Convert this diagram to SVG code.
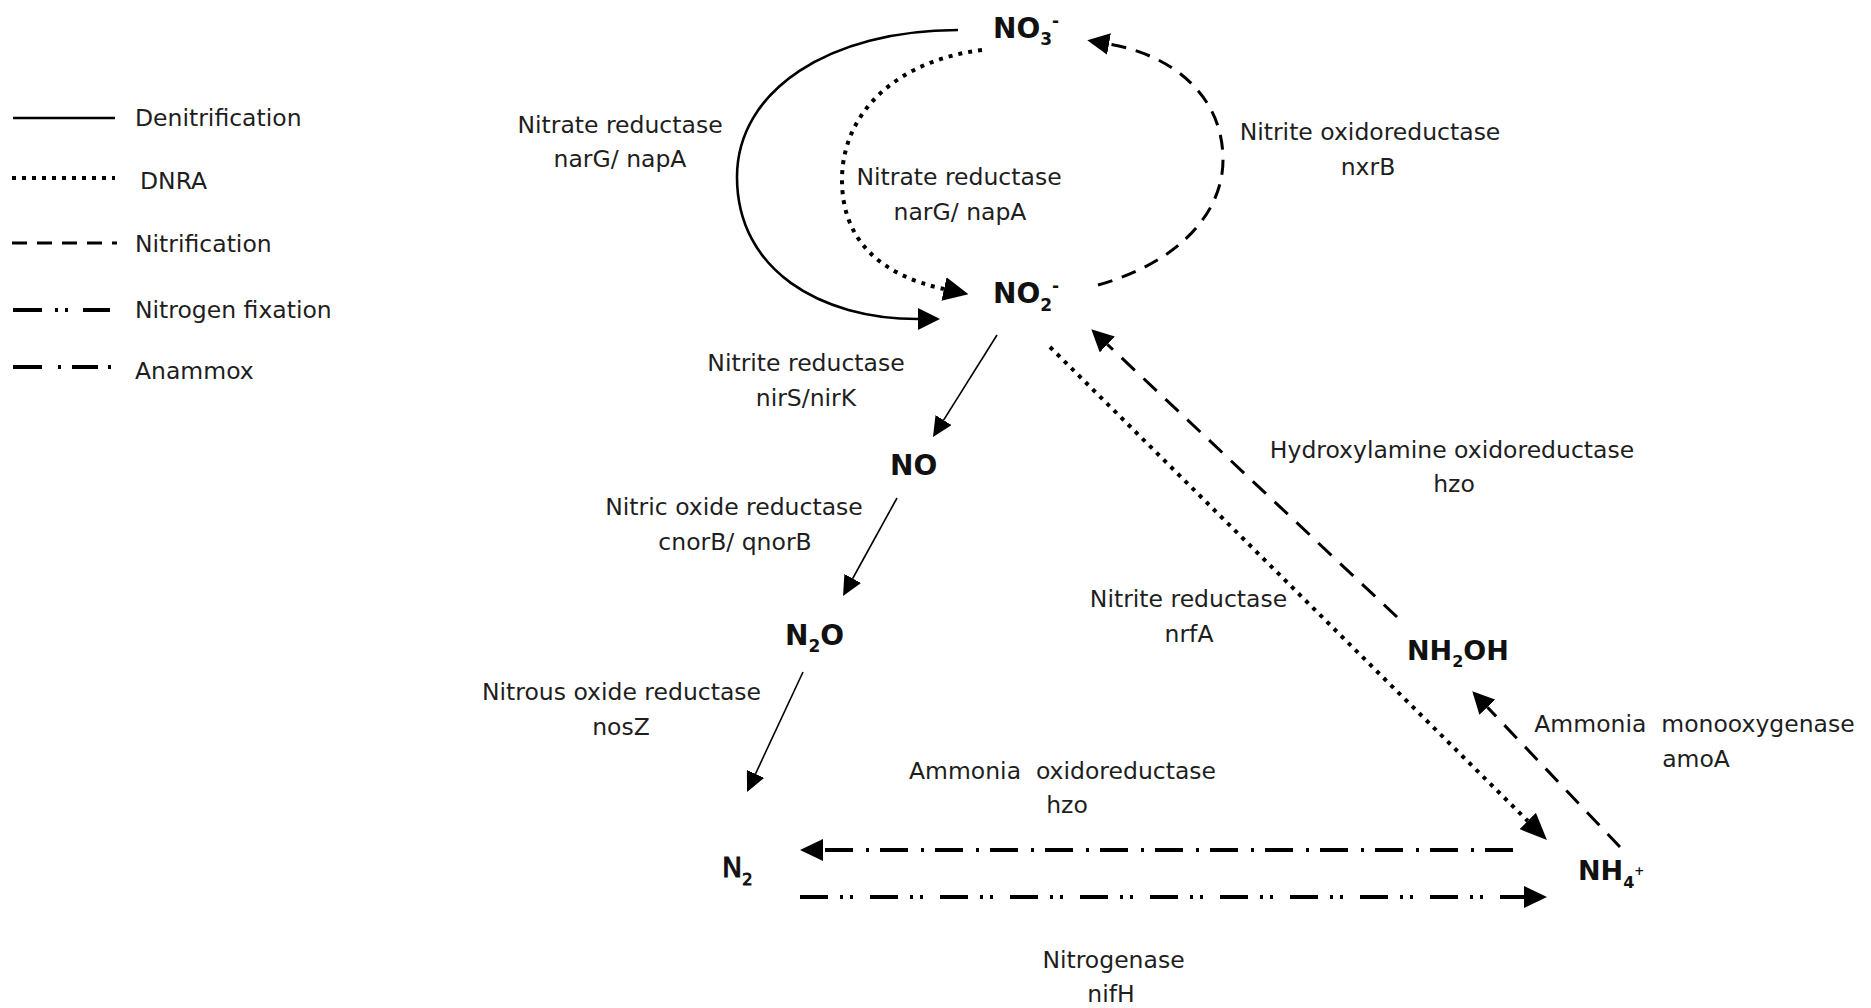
<svg xmlns="http://www.w3.org/2000/svg" width="1871" height="1008" viewBox="0 0 1871 1008">
  <defs>
    <!-- arrowheads: base sits on the path end, tip points forward -->
    <marker id="head" markerUnits="userSpaceOnUse" viewBox="0 0 22 22" markerWidth="22" markerHeight="22" refX="0" refY="11" orient="auto">
      <path d="M0,0 L22,11 L0,22 Z" fill="#000"/>
    </marker>
    <marker id="headL" markerUnits="userSpaceOnUse" viewBox="0 0 25 24" markerWidth="25" markerHeight="24" refX="0" refY="12" orient="auto">
      <path d="M0,0 L25,12 L0,24 Z" fill="#000"/>
    </marker>
    <marker id="headD" markerUnits="userSpaceOnUse" viewBox="0 0 27 23" markerWidth="27" markerHeight="23" refX="0" refY="11.5" orient="auto">
      <path d="M0,0 L27,11.5 L0,23 Z" fill="#000"/>
    </marker>
    <marker id="headS" markerUnits="userSpaceOnUse" viewBox="0 0 20 19" markerWidth="20" markerHeight="19" refX="0" refY="9.5" orient="auto">
      <path d="M0,0 L20,9.5 L0,19 Z" fill="#000"/>
    </marker>
    <marker id="headH" markerUnits="userSpaceOnUse" viewBox="0 0 23 22" markerWidth="23" markerHeight="22" refX="0" refY="11" orient="auto">
      <path d="M0,0 L23,11 L0,22 Z" fill="#000"/>
    </marker>
  </defs>
  <style>
    .lbl { font-family: "DejaVu Sans", "Liberation Sans", sans-serif; font-size: 23.5px; fill: #1e1e1e; text-anchor: middle; white-space: pre; }
    .leg { font-family: "DejaVu Sans", "Liberation Sans", sans-serif; font-size: 23.5px; fill: #1e1e1e; }
    .chem { font-family: "DejaVu Sans", "Liberation Sans", sans-serif; font-weight: bold; font-size: 28px; fill: #111; }
    .chem.small { font-size: 27px; }
    .chem.plain { font-weight: normal; font-size: 27px; stroke: #111; stroke-width: 1px; }
    .chem .sub { font-size: 17px; }
    .chem .sup { font-size: 17px; }
    .chem.small .sub, .chem.plain .sub { font-size: 16px; }
    .chem .plus { font-size: 12px; }
    .line { fill: none; stroke: #000; }
    .solid { stroke-width: 2.6; }
    .thin { stroke-width: 1.6; }
    .dotted { stroke-width: 4; stroke-dasharray: 4 6; }
    .dashed { stroke-width: 3; stroke-dasharray: 15 10; }
    .dashed-long { stroke-width: 3; stroke-dasharray: 18 12; }
    .anammox { stroke-width: 4; stroke-dasharray: 28 11 3 13; }
    .fixation { stroke-width: 4; stroke-dasharray: 28 12 3 7 3 17; }
  </style>

  <rect width="1871" height="1008" fill="#fff"/>

  <!-- legend -->
  <g id="legend">
    <path class="line solid" d="M13,118 H115"/>
    <text class="leg" x="135" y="126">Denitrification</text>
    <path class="line dotted" d="M12,178 H115"/>
    <text class="leg" x="140" y="189">DNRA</text>
    <path class="line dashed" d="M12,243 H117"/>
    <text class="leg" x="135" y="252">Nitrification</text>
    <path class="line" stroke-width="4" stroke-dasharray="29 13 3 7 3 15" d="M13,310 H110"/>
    <text class="leg" x="135" y="318">Nitrogen fixation</text>
    <path class="line" stroke-width="4" stroke-dasharray="29 16 3 11 26 10 3 100" d="M13,367 H113"/>
    <text class="leg" x="135" y="379">Anammox</text>
  </g>

  <!-- connectors -->
  <g id="connectors">
    <!-- denitrification: NO3- to NO2- -->
    <path class="line solid" d="M958,30 C830,30 737,90 737,177 C737,270 820,319 918,319" marker-end="url(#head)"/>
    <!-- DNRA: NO3- to NO2- -->
    <path class="line dotted" d="M982,50 C900,60 842,110 842,180 C842,240 880,275 944,289" marker-end="url(#headL)"/>
    <!-- nitrification: NO2- to NO3- -->
    <path class="line dashed" d="M1098,285 C1180,262 1223,212 1223,160 C1223,95 1172,55 1109,44" marker-end="url(#head)"/>
    <!-- denitrification chain -->
    <path class="line thin" d="M997,335 L943.6,420.1" marker-end="url(#headS)"/>
    <path class="line thin" d="M897,498 L852.7,578.5" marker-end="url(#headS)"/>
    <path class="line thin" d="M803,672 L755.5,773.9" marker-end="url(#headS)"/>
    <!-- DNRA: NO2- to NH4+ -->
    <path class="line dotted" d="M1050,347 L1527.8,821" marker-end="url(#headD)"/>
    <!-- nitrification: NH2OH to NO2- -->
    <path class="line dashed-long" d="M1397,617 L1107.3,344.4" marker-end="url(#head)"/>
    <!-- nitrification: NH4+ to NH2OH -->
    <path class="line dashed-long" d="M1620,847 L1487.4,707.2" marker-end="url(#head)"/>
    <!-- anammox: NH4+ to N2 -->
    <path class="line anammox" d="M1513,850 L823,850" marker-end="url(#headH)"/>
    <!-- nitrogen fixation: N2 to NH4+ -->
    <path class="line fixation" d="M800,897 L1524,897" marker-end="url(#headH)"/>
  </g>

  <!-- species -->
  <g id="node-no3">
    <text class="chem" x="993" y="38">NO<tspan class="sub" dy="7">3</tspan><tspan class="sup" dy="-18.5">-</tspan></text>
  </g>
  <g id="node-no2">
    <text class="chem" x="993" y="303">NO<tspan class="sub" dy="8">2</tspan><tspan class="sup" dy="-19">-</tspan></text>
  </g>
  <g id="node-no">
    <text class="chem" x="890" y="475">NO</text>
  </g>
  <g id="node-n2o">
    <text class="chem" x="785" y="645">N<tspan class="sub" dy="7">2</tspan><tspan dy="-7">O</tspan></text>
  </g>
  <g id="node-n2">
    <text class="chem plain" x="722" y="877">N<tspan class="sub" dy="8">2</tspan></text>
  </g>
  <g id="node-nh2oh">
    <text class="chem small" x="1407" y="660">NH<tspan class="sub" dy="7">2</tspan><tspan dy="-7">OH</tspan></text>
  </g>
  <g id="node-nh4">
    <text class="chem small" x="1578" y="880">NH<tspan class="sub" dy="8">4</tspan><tspan class="plus" dy="-13">+</tspan></text>
  </g>

  <!-- enzyme / gene labels -->
  <g id="label-nar-denit">
    <text class="lbl" x="620" y="133">Nitrate reductase</text>
    <text class="lbl" x="620" y="167">narG/ napA</text>
  </g>
  <g id="label-nar-dnra">
    <text class="lbl" x="959" y="185">Nitrate reductase</text>
    <text class="lbl" x="960" y="220">narG/ napA</text>
  </g>
  <g id="label-nxr">
    <text class="lbl" x="1370" y="140">Nitrite oxidoreductase</text>
    <text class="lbl" x="1368" y="175">nxrB</text>
  </g>
  <g id="label-nir">
    <text class="lbl" x="806" y="371">Nitrite reductase</text>
    <text class="lbl" x="806" y="406">nirS/nirK</text>
  </g>
  <g id="label-nor">
    <text class="lbl" x="734" y="515">Nitric oxide reductase</text>
    <text class="lbl" x="735" y="550">cnorB/ qnorB</text>
  </g>
  <g id="label-nos">
    <text class="lbl" x="621.5" y="700">Nitrous oxide reductase</text>
    <text class="lbl" x="621" y="735">nosZ</text>
  </g>
  <g id="label-hao">
    <text class="lbl" x="1452" y="458">Hydroxylamine oxidoreductase</text>
    <text class="lbl" x="1454" y="492">hzo</text>
  </g>
  <g id="label-nrf">
    <text class="lbl" x="1188.5" y="607">Nitrite reductase</text>
    <text class="lbl" x="1189" y="642">nrfA</text>
  </g>
  <g id="label-amo">
    <text class="lbl" x="1694.5" y="732">Ammonia  monooxygenase</text>
    <text class="lbl" x="1696" y="767">amoA</text>
  </g>
  <g id="label-anammox">
    <text class="lbl" x="1062.5" y="779">Ammonia  oxidoreductase</text>
    <text class="lbl" x="1067" y="813">hzo</text>
  </g>
  <g id="label-nif">
    <text class="lbl" x="1113.5" y="968">Nitrogenase</text>
    <text class="lbl" x="1111" y="1002">nifH</text>
  </g>
</svg>
